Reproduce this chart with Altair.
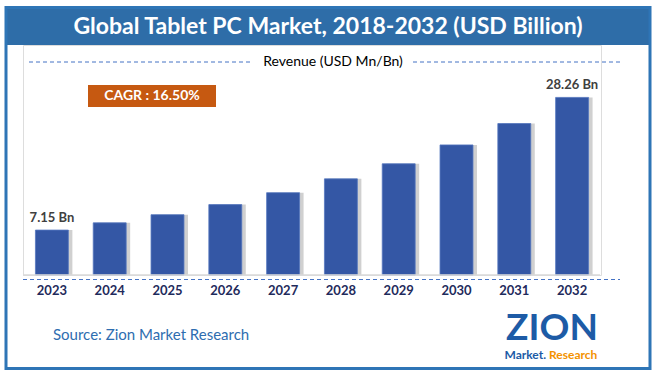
import altair as alt
import pandas as pd

# ---- data ----
years = ["2023", "2024", "2025", "2026", "2027", "2028", "2029", "2030", "2031", "2032"]
revenue = [7.15, 8.3, 9.6, 11.2, 13.1, 15.3, 17.7, 20.7, 24.1, 28.26]
value_labels = ["7.15 Bn", "", "", "", "", "", "", "", "", "28.26 Bn"]

title_text = "Global Tablet PC Market, 2018-2032 (USD Billion)"
subtitle_text = "Revenue (USD Mn/Bn)"
cagr_text = "CAGR : 16.50%"
source_text = "Source: Zion Market Research"

df = pd.DataFrame({"year": years, "revenue": revenue, "label": value_labels})
one = pd.DataFrame({"k": [0]})

FONT = "Lato"
W, H = 578, 230

xenc = alt.X("year:N", sort=years,
             scale=alt.Scale(paddingInner=0.43, paddingOuter=0.215),
             axis=None)
yenc = alt.Y("revenue:Q", scale=alt.Scale(domain=[0, 36.6], nice=False, zero=True), axis=None)

base = alt.Chart(df)
deco = alt.Chart(one)

title_bar = deco.mark_rect(color="#2E6DA8").encode(
    x=alt.value(-17), x2=alt.value(627), y=alt.value(-38), y2=alt.value(0))
border = deco.mark_rect(fillOpacity=0, stroke="#2E75B6", strokeWidth=3).encode(
    x=alt.value(-17), x2=alt.value(627), y=alt.value(-37.5), y2=alt.value(323.5))
title = deco.mark_text(text=title_text, font=FONT, fontSize=23, fontWeight="bold",
                       color="white", align="center", baseline="middle").encode(
    x=alt.value(305), y=alt.value(-18))
subtitle = deco.mark_text(text=subtitle_text, font=FONT, fontSize=14,
                          color="black", align="center", baseline="middle").encode(
    x=alt.value(310), y=alt.value(16.5))
dash_l = deco.mark_rule(color="#4472C4", strokeDash=[4, 3], strokeWidth=1).encode(
    x=alt.value(6), x2=alt.value(227), y=alt.value(17))
dash_r = deco.mark_rule(color="#4472C4", strokeDash=[4, 3], strokeWidth=1).encode(
    x=alt.value(390), x2=alt.value(598), y=alt.value(17))
cagr_box = deco.mark_rect(color="#C65911").encode(
    x=alt.value(65), x2=alt.value(193), y=alt.value(40), y2=alt.value(62))
cagr = deco.mark_text(text=cagr_text, font=FONT, fontSize=14, fontWeight="bold",
                      color="white", align="center", baseline="middle").encode(
    x=alt.value(129), y=alt.value(51))
baseline = deco.mark_rule(color="#D9D9D9", strokeWidth=1.5).encode(
    x=alt.value(0), x2=alt.value(577), y=alt.value(230))
axis_dash = deco.mark_rule(color="#4472C4", strokeDash=[4, 3], strokeWidth=1).encode(
    x=alt.value(0), x2=alt.value(597), y=alt.value(234.5))

shadow = base.mark_bar(color="#8a8a8a", opacity=0.4, xOffset=4).encode(x=xenc, y=yenc)
bars = base.mark_bar(color="#3457A5", stroke="#5677BF", strokeWidth=0.8).encode(x=xenc, y=yenc)
vlabels = base.mark_text(font=FONT, fontSize=13, fontWeight="bold", color="#404040",
                         baseline="bottom", dy=-5).encode(x=xenc, y=yenc, text="label:N")
ylabels = base.mark_text(font=FONT, fontSize=13, fontWeight="bold", color="#1F2B5C",
                         baseline="middle").encode(x=xenc, y=alt.value(246), text="year:N")

source = deco.mark_text(text=source_text, font=FONT, fontSize=15, color="#2E6DB0",
                        align="left", baseline="middle").encode(
    x=alt.value(30), y=alt.value(290))
logo = deco.mark_text(text="ZION", font=FONT, fontSize=37, fontWeight="bold",
                      color="#1D5BA6", align="center", baseline="alphabetic").encode(
    x=alt.value(529), y=alt.value(295))
logo_m = deco.mark_text(text="Market.", font=FONT, fontSize=12, fontWeight="bold",
                        color="#1D5BA6", align="right", baseline="middle").encode(
    x=alt.value(523), y=alt.value(310))
logo_r = deco.mark_text(text="Research", font=FONT, fontSize=12, fontWeight="bold",
                        color="#F39200", align="left", baseline="middle").encode(
    x=alt.value(526), y=alt.value(310))

chart = alt.layer(
    title_bar, border, title, subtitle, dash_l, dash_r, cagr_box, cagr,
    shadow, bars, baseline, axis_dash, vlabels, ylabels, source, logo, logo_m, logo_r
).properties(
    width=W, height=H,
    autosize=alt.AutoSizeParams(type="none"),
    padding={"left": 23, "top": 45, "right": 55, "bottom": 102},
).configure_view(stroke=None).configure(background="white")

chart.save("out.html", embed_options={"renderer": "svg", "actions": False})
